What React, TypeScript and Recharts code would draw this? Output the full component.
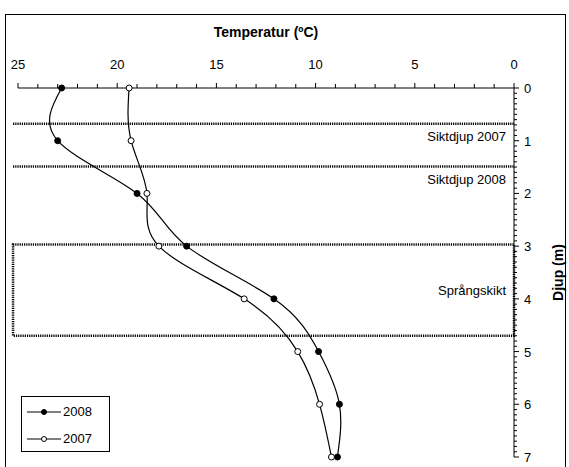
import React from 'react';
import {
  ComposedChart,
  Line,
  XAxis,
  YAxis,
  ReferenceLine,
  ReferenceArea,
  Label
} from 'recharts';

// djup (m) och temperatur (ºC) per år
const depths = [0, 1, 2, 3, 4, 5, 6, 7];
const temp2008 = [22.8, 23.0, 19.0, 16.5, 12.1, 9.85, 8.8, 8.9];
const temp2007 = [19.4, 19.3, 18.5, 17.9, 13.6, 10.9, 9.8, 9.2];

const tempTicks = [25, 20, 15, 10, 5, 0];
const depthTicks = [0, 1, 2, 3, 4, 5, 6, 7];

const siktdjup2007 = 0.68;
const siktdjup2008 = 1.49;
const sprangTop = 2.97;
const sprangBottom = 4.7;

const minorTemp = Array.from({ length: 26 }, (_, i) => i);
const minorDepth = Array.from({ length: 71 }, (_, i) => i / 10);

const data = depths.map((d, i) => ({ depth: d, t2008: temp2008[i], t2007: temp2007[i] }));

const FONT = '"Liberation Sans", Arial, sans-serif';

const TempTick = (props: any) => {
  const { x, y, payload } = props;
  const major = tempTicks.includes(payload.value);
  return (
    <g>
      <line x1={x} x2={x} y1={y} y2={y - (major ? 5 : 4)} stroke="#000" />
      {major && (
        <text x={x} y={y - 19} textAnchor="middle" fontSize={13} fontFamily={FONT} fill="#000">
          {payload.value}
        </text>
      )}
    </g>
  );
};

const DepthTick = (props: any) => {
  const { x, y, payload } = props;
  const major = depthTicks.includes(payload.value);
  return (
    <g>
      <line x1={x} x2={x + (major ? 5 : 3)} y1={y} y2={y} stroke="#000" />
      {major && (
        <text x={x + 10} y={y + 5} textAnchor="start" fontSize={13} fontFamily={FONT} fill="#000">
          {payload.value}
        </text>
      )}
    </g>
  );
};

const legendItems = [
  { name: '2008', fill: '#000' },
  { name: '2007', fill: '#fff' }
];

const LegendBox = () => (
  <div
    style={{
      position: 'absolute',
      left: 21,
      top: 396,
      width: 89,
      height: 56,
      border: '1px solid #000',
      boxSizing: 'border-box',
      background: '#fff',
      fontFamily: FONT,
      fontSize: 13,
      paddingTop: 1
    }}
  >
    {legendItems.map(it => (
      <div key={it.name} style={{ display: 'flex', alignItems: 'center', height: 27, paddingLeft: 5 }}>
        <svg width={34} height={10}>
          <line x1={0} x2={34} y1={5} y2={5} stroke="#000" />
          <circle cx={17} cy={5} r={2.5} fill={it.fill} stroke="#000" />
        </svg>
        <span style={{ marginLeft: 2 }}>{it.name}</span>
      </div>
    ))}
  </div>
);

const dotted = { stroke: '#000', strokeWidth: 2.5, strokeDasharray: '1.2 1' };
const noteStyle = { fontSize: 13, fontFamily: FONT, fill: '#000' };

export default function App() {
  return (
    <div style={{ position: 'absolute', left: 0, top: 0, width: 569, height: 467, background: '#fff', overflow: 'hidden' }}>
      <div
        style={{
          position: 'absolute',
          left: 5,
          top: 14,
          width: 561,
          height: 470,
          border: '1px solid #000',
          boxSizing: 'border-box'
        }}
      />
      <ComposedChart
        width={569}
        height={467}
        data={data}
        layout="vertical"
        margin={{ top: 28, right: 15, bottom: 10, left: 18 }}
        style={{ position: 'absolute', left: 0, top: 0 }}
      >
        <XAxis
          type="number"
          orientation="top"
          domain={[0, 25]}
          reversed
          ticks={minorTemp}
          interval={0}
          tick={<TempTick />}
          tickLine={false}
          tickSize={0}
          tickMargin={0}
          height={60}
          axisLine={{ stroke: '#000' }}
        >
          <Label
            value="Temperatur (ºC)"
            position="insideTop"
            offset={-1}
            style={{ fontFamily: FONT, fontSize: 14, fontWeight: 'bold', fill: '#000' }}
          />
        </XAxis>
        <YAxis
          type="number"
          dataKey="depth"
          orientation="right"
          domain={[0, 7]}
          ticks={minorDepth}
          interval={0}
          tick={<DepthTick />}
          tickLine={false}
          tickSize={0}
          tickMargin={0}
          width={40}
          axisLine={{ stroke: '#000' }}
        >
          <Label
            value="Djup (m)"
            angle={-90}
            position="insideRight"
            offset={-4}
            style={{ fontFamily: FONT, fontSize: 14, fontWeight: 'bold', fill: '#000', textAnchor: 'middle' }}
          />
        </YAxis>
        <ReferenceLine
          segment={[{ x: 25.25, y: siktdjup2007 }, { x: 0, y: siktdjup2007 }]}
          ifOverflow="visible"
          {...dotted}
          label={{ value: 'Siktdjup 2007', position: 'insideTopRight', offset: 8, ...noteStyle }}
        />
        <ReferenceLine
          segment={[{ x: 25.25, y: siktdjup2008 }, { x: 0, y: siktdjup2008 }]}
          ifOverflow="visible"
          {...dotted}
          label={{ value: 'Siktdjup 2008', position: 'insideTopRight', offset: 8, ...noteStyle }}
        />
        <ReferenceArea
          x1={25.25}
          x2={0}
          y1={sprangTop}
          y2={sprangBottom}
          ifOverflow="visible"
          fill="none"
          fillOpacity={0}
          {...dotted}
          label={{ value: 'Språngskikt', position: 'insideRight', offset: 8, ...noteStyle }}
        />
        <Line
          dataKey="t2008"
          type="natural"
          stroke="#000"
          strokeWidth={1.2}
          dot={{ r: 3, fill: '#000', stroke: '#000', strokeWidth: 1 }}
          isAnimationActive={false}
        />
        <Line
          dataKey="t2007"
          type="natural"
          stroke="#000"
          strokeWidth={1.2}
          dot={{ r: 3, fill: '#fff', stroke: '#000', strokeWidth: 1 }}
          isAnimationActive={false}
        />
      </ComposedChart>
      <LegendBox />
    </div>
  );
}
